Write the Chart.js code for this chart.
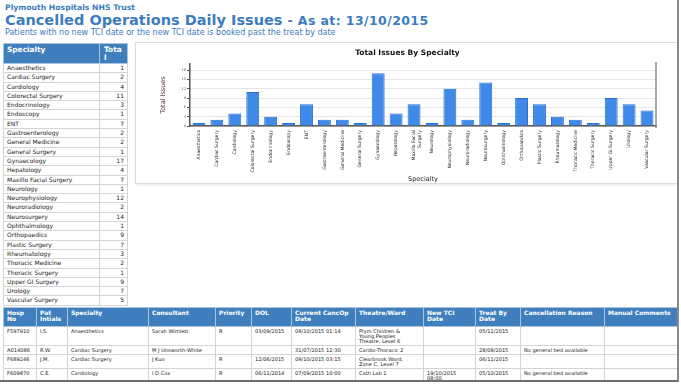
<!DOCTYPE html>
<html>
<head>
<meta charset="utf-8">
<script src="https://cdn.jsdelivr.net/npm/chart.js@4"></script>
<style>
  body { margin: 0; background: #fff; font-family: "DejaVu Sans", Verdana, sans-serif; color: #222; }
  #page { position: relative; width: 677px; height: 380px; border-right: 2px solid #8a8a8a; border-bottom: 2px solid #6e6e6e; overflow: hidden; }
  .trust { position: absolute; left: 5px; top: 3px; font-size: 7.7px; font-weight: bold; color: #3d7cc0; }
  .title { position: absolute; left: 5px; top: 12px; font-size: 14.5px; font-weight: bold; color: #3d7cc0; white-space: nowrap; }
  .title span { font-size: 12.5px; letter-spacing: 0.4px; }
  .sub { position: absolute; left: 5px; top: 28px; font-size: 8px; color: #3d7cc0; white-space: nowrap; }
  table { border-collapse: collapse; position: absolute; table-layout: fixed; }
  td, th { border: 1px solid #d4d4d4; padding: 0 3px; text-align: left; vertical-align: top; }
  th { background: #3f7fbe; color: #fff; font-weight: bold; border-color: #a9c3df; }
  #spec { left: 3px; top: 43px; width: 124px; font-size: 6px; }
  #spec th { height: 17px; padding-top: 2px; font-size: 7.4px; line-height: 7.5px; }
  #spec td { height: 8.3px; line-height: 8.3px; padding-top: 0; padding-bottom: 0; }
  #spec td.n { text-align: right; }
  #spec th.n { word-break: break-all; padding: 2px 4px 0 4px; }
  #detail { left: 3px; top: 307px; width: 674px; font-size: 5.1px; }
  #detail th { height: 16px; font-size: 6px; line-height: 6.2px; padding-top: 2px; }
  #detail td { line-height: 5px; padding-top: 2px; padding-bottom: 1px; white-space: pre-line; }
  #panel { position: absolute; left: 135px; top: 42px; width: 541px; height: 140px; border: 1px solid #dcdcdc; box-shadow: 1px 1px 2px #e8e8e8; }
</style>
</head>
<body>
<div id="page">
  <div class="trust">Plymouth Hospitals NHS Trust</div>
  <div class="title">Cancelled Operations Daily Issues <span>- As at: 13/10/2015</span></div>
  <div class="sub">Patients with no new TCI date or the new TCI date is booked past the treat by date</div>
  <table id="spec"><colgroup><col style="width:96px"><col style="width:28px"></colgroup><thead><tr><th>Specialty</th><th class="n">Total</th></tr></thead><tbody id="specBody"></tbody></table>
  <div id="panel"><canvas id="chart"></canvas></div>
  <table id="detail">
    <colgroup>
      <col style="width:33px"><col style="width:31px"><col style="width:81px"><col style="width:67px"><col style="width:36px"><col style="width:40px">
      <col style="width:64px"><col style="width:68px"><col style="width:52px"><col style="width:45px"><col style="width:84px"><col style="width:73px">
    </colgroup>
    <thead id="detailHead"></thead>
    <tbody id="detailBody"></tbody>
  </table>
</div>
<script>
const specialties = ["Anaesthetics", "Cardiac Surgery", "Cardiology", "Colorectal Surgery", "Endocrinology", "Endoscopy", "ENT",
  "Gastroenterology", "General Medicine", "General Surgery", "Gynaecology", "Hepatology", "Maxillo Facial Surgery", "Neurology",
  "Neurophysiology", "Neuroradiology", "Neurosurgery", "Ophthalmology", "Orthopaedics", "Plastic Surgery", "Rheumatology",
  "Thoracic Medicine", "Thoracic Surgery", "Upper GI Surgery", "Urology", "Vascular Surgery"];
const totals = [1, 2, 4, 11, 3, 1, 7, 2, 2, 1, 17, 4, 7, 1, 12, 2, 14, 1, 9, 7, 3, 2, 1, 9, 7, 5];
const yTicksMax = 20;

const detailColumns = ["Hosp No", "Pat Intials", "Specialty", "Consultant", "Priority", "DOL", "Current CancOp Date",
  "Theatre/Ward", "New TCI Date", "Treat By Date", "Cancellation Reason", "Manual Comments"];
const detailRows = [
  ["F597910", "I.S.", "Anaesthetics", "Sarah Wimlett", "R", "03/09/2015", "08/10/2015 01:14", "Plym Children &\nYoung Peoples\nTheatre, Level 6", "", "05/11/2015", "", ""],
  ["A014086", "R.W.", "Cardiac Surgery", "M J Unsworth-White", "", "", "31/07/2015 12:30", "Cardio-Thoracic 2", "", "28/08/2015", "No general bed available", ""],
  ["F689246", "J.M.", "Cardiac Surgery", "J Kuo", "R", "12/06/2015", "09/10/2015 03:15", "Clearbrook Ward,\nZone C, Level 7", "", "06/11/2015", "", ""],
  ["F609870", "C.E.", "Cardiology", "I D Cox", "R", "06/11/2014", "07/09/2015 10:00", "Cath Lab 1", "19/10/2015\n08:00", "05/10/2015", "No general bed available", ""]
];
const detailRowHeights = [19, 8, 13, 12];

// side table
const specBody = document.getElementById("specBody");
specialties.forEach((s, i) => {
  const tr = document.createElement("tr");
  const a = document.createElement("td"); a.textContent = s;
  const b = document.createElement("td"); b.textContent = totals[i]; b.className = "n";
  tr.append(a, b); specBody.appendChild(tr);
});

// detail table
const hr = document.createElement("tr");
detailColumns.forEach(c => { const th = document.createElement("th"); th.textContent = c; hr.appendChild(th); });
document.getElementById("detailHead").appendChild(hr);
detailRows.forEach((r, i) => {
  const tr = document.createElement("tr");
  tr.style.height = detailRowHeights[i] + "px";
  r.forEach(v => { const td = document.createElement("td"); td.textContent = v; tr.appendChild(td); });
  document.getElementById("detailBody").appendChild(tr);
});

// chart
const chartLabels = specialties.map(s => s === "Maxillo Facial Surgery" ? ["Maxillo Facial", "Surgery"] : s);

const rightBorder = {
  id: "rightBorder",
  afterDraw(chart) {
    const { ctx, chartArea } = chart;
    ctx.save();
    ctx.strokeStyle = "#8c8c8c";
    ctx.lineWidth = 1.5;
    ctx.beginPath();
    ctx.moveTo(chartArea.right, chartArea.top - 2);
    ctx.lineTo(chartArea.right, chartArea.bottom + 2);
    ctx.stroke();
    ctx.restore();
  }
};

new Chart(document.getElementById("chart"), {
  type: "bar",
  data: {
    labels: chartLabels,
    datasets: [{
      label: "Total Issues",
      data: totals,
      backgroundColor: "#3f8ae8",
      borderColor: "#2b6fd0",
      borderWidth: 1,
      categoryPercentage: 0.72,
      barPercentage: 1
    }]
  },
  plugins: [rightBorder],
  options: {
    responsive: true,
    maintainAspectRatio: false,
    animation: false,
    layout: { padding: { left: 23, right: 21, top: 0, bottom: 0 } },
    plugins: {
      legend: { display: false },
      tooltip: { enabled: false },
      title: {
        display: true,
        text: "Total Issues By Specialty",
        color: "#111",
        font: { family: "DejaVu Sans", size: 7.5, weight: "bold" },
        padding: { top: 6, bottom: 6 }
      }
    },
    scales: {
      x: {
        grid: { display: false, drawTicks: true, tickLength: 3, tickColor: "#555" },
        border: { color: "#555", width: 1.5 },
        ticks: {
          autoSkip: false, maxRotation: 90, minRotation: 90, padding: 1,
          color: "#222", font: { family: "DejaVu Sans", size: 4.6 }
        },
        title: {
          display: true, text: "Specialty", color: "#222",
          font: { family: "DejaVu Sans", size: 6.5 }, padding: { top: 4, bottom: 0 }
        },
        afterFit: scale => { scale.height = 57; }
      },
      y: {
        min: 0,
        max: yTicksMax,
        grid: { color: "#e6e6e6", tickColor: "#555", tickLength: 3 },
        border: { color: "#555", width: 1.5 },
        ticks: { stepSize: 1, color: "#555", padding: 1, font: { family: "DejaVu Sans", size: 3.5 } },
        title: {
          display: true, text: "Total Issues", color: "#5a3434",
          font: { family: "DejaVu Sans", size: 6.5 }, padding: 0
        },
        afterFit: scale => { scale.width = 31; }
      }
    }
  }
});
</script>
</body>
</html>
